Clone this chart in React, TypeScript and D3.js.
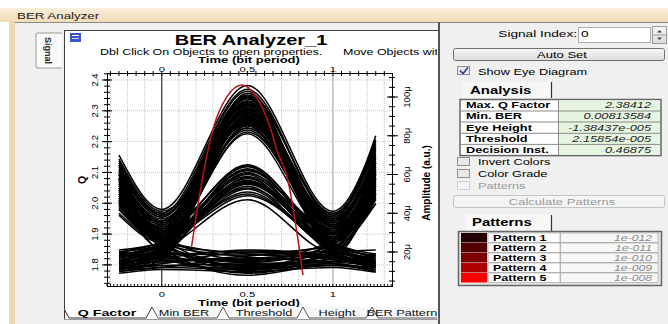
import React from 'react';
import * as d3 from 'd3';

// axis ticks
const timeLabels = [0, 0.5, 1];
const qLabels = [1.8, 1.9, 2.0, 2.1, 2.2, 2.3, 2.4];
const ampLabels = [20, 40, 60, 80, 100];

// instants (bit period) where each eye trace is sampled
const traceTimes = [-0.25, 0, 0.5, 1, 1.25];
// amplitude of each trace at those instants, in micro a.u.
const highTraces = [
  [70, 42, 106, 41, 78], [66, 40, 104, 38, 74], [62, 38, 101, 40, 72], [58, 36, 99, 34, 68],
  [55, 35, 98, 36, 66], [52, 33, 97, 31, 63], [50, 32, 96, 33, 60], [48, 30, 95, 29, 58],
  [16, 21, 94, 37, 70], [14, 19, 93, 22, 15], [60, 37, 92, 20, 14], [57, 34, 92, 35, 64],
  [45, 29, 91, 21, 17], [18, 23, 90, 30, 56], [53, 31, 90, 39, 76], [12, 18, 89, 19, 12],
  [64, 39, 88, 28, 54], [47, 28, 88, 23, 18], [20, 24, 87, 33, 62], [68, 41, 86, 36, 71],
  [43, 27, 85, 25, 19], [15, 20, 84, 32, 60], [51, 33, 83, 30, 57], [40, 26, 82, 24, 16],
  [17, 22, 81, 27, 52], [61, 36, 96, 37, 80], [56, 35, 100, 18, 13], [11, 17, 98, 34, 66],
  [63, 38, 103, 27, 50], [13, 18, 102, 39, 77], [59, 36, 100.5, 33, 61], [46, 30, 99.5, 22, 16],
  [19, 22, 97.5, 36, 67], [54, 34, 96.5, 26, 48], [65, 40, 95.5, 40, 75], [44, 28, 94.5, 19, 13],
  [21, 25, 93.5, 31, 59], [49, 31, 92.5, 35, 69], [67, 39, 91.5, 24, 15], [10, 16, 90.5, 38, 73],
  [52, 32, 89.5, 29, 55], [42, 27, 88.5, 33, 63], [14, 20, 87.5, 21, 14], [58, 35, 86.5, 37, 65],
  [39, 25, 85.5, 27, 53], [50, 30, 84, 34, 58],
];
const midTraces = [
  [48, 30, 65, 29, 55], [14, 21, 64, 26, 50], [55, 27, 63, 22, 15], [18, 24, 62, 31, 64],
  [44, 28, 61, 20, 13], [12, 19, 60, 25, 48], [60, 32, 59, 30, 58], [16, 22, 58, 21, 16],
  [50, 29, 57, 27, 52], [20, 25, 56, 19, 12], [42, 26, 55, 28, 61], [13, 20, 54, 23, 45],
  [58, 30, 53, 24, 17], [17, 23, 51, 26, 54], [46, 27, 49, 22, 14], [15, 21, 47, 20, 50],
  [52, 31, 64.5, 24, 18], [19, 23, 62.5, 29, 57], [47, 28, 60.5, 32, 62], [11, 18, 58.5, 23, 47],
  [56, 29, 56.5, 20, 14], [15, 22, 55.5, 30, 60], [45, 26, 52.5, 25, 51], [18, 24, 50, 21, 15],
];
const lowTraces = [
  [15, 17, 21, 18, 14], [12, 14, 20, 16, 13], [55, 25, 19, 17, 16], [18, 19, 18.5, 24, 58],
  [10, 12, 17, 14, 11], [62, 28, 16, 20, 21], [14, 16, 15.5, 26, 66], [48, 23, 15, 18, 12],
  [11, 13, 14, 15, 19], [20, 18, 13, 22, 50], [65, 27, 12.5, 16, 14], [13, 15, 12, 13, 10],
  [17, 20, 11, 25, 62], [52, 24, 10.5, 14, 11], [9, 11, 10, 12, 9.5], [19, 16, 9, 21, 45],
  [58, 22, 8, 15, 18], [12, 13, 11.5, 19, 54], [16, 18, 20.5, 17, 12], [53, 26, 19.5, 23, 56],
  [11, 14, 18, 21, 49], [60, 24, 17.5, 15, 13], [13, 15, 16.5, 19, 17], [46, 21, 14.5, 24, 60],
  [18, 17, 13.5, 14, 10], [57, 25, 12, 20, 47], [10, 12, 11, 17, 52], [50, 20, 9.5, 13, 12],
];

// Q factor vs decision instant (red curve)
const qTime = [0.174, 0.24, 0.298, 0.38, 0.469, 0.573, 0.632, 0.678, 0.729, 0.825];
const qValue = [1.859, 2.088, 2.238, 2.345, 2.384, 2.325, 2.248, 2.163, 2.092, 1.767];

const analysisLabels = ['Max. Q Factor', 'Min. BER', 'Eye Height', 'Threshold', 'Decision Inst.'];
const analysisValues = ['2.38412', '0.00813584', '-1.38437e-005', '2.15854e-005', '0.46875'];
const patternNames = ['Pattern 1', 'Pattern 2', 'Pattern 3', 'Pattern 4', 'Pattern 5'];
const patternBer = ['1e-012', '1e-011', '1e-010', '1e-009', '1e-008'];
const patternColors = ['#240000', '#520000', '#7c0000', '#b00000', '#ff0000'];
const tabNames = ['Q Factor', 'Min BER', 'Threshold', 'Height', 'BER Patterns'];

const FONT = '"Liberation Sans", Arial, sans-serif';
const SX = 1.45;

const plot = { left: 107, right: 392, top: 73, bottom: 286 };
const x = d3.scaleLinear().domain([-0.32, 1.345]).range([plot.left, plot.right]);
const yQ = d3.scaleLinear().domain([1.7315, 2.4227]).range([plot.bottom, plot.top]);
const yA = d3.scaleLinear().domain([2.45, 112.4]).range([plot.bottom, plot.top]);

const traceLine = d3.line<number>()
  .x((_, i) => x(traceTimes[i]))
  .y(d => yA(d))
  .curve(d3.curveMonotoneX);

const qLine = d3.line<number>()
  .x((_, i) => x(qTime[i]))
  .y(d => yQ(d))
  .curve(d3.curveMonotoneX);

type TP = { x: number; y: number; s: string; size?: number; weight?: string; anchor?: string; fill?: string; italic?: boolean };
const HText = ({ x, y, s, size = 10, weight = 'normal', anchor = 'start', fill = '#000', italic = false }: TP) => (
  <text transform={`translate(${x},${y}) scale(${SX},1)`} textAnchor={anchor} fontSize={size}
    fontWeight={weight} fill={fill} fontStyle={italic ? 'italic' : 'normal'} fontFamily={FONT}>{s}</text>
);

const VText = ({ x, y, s, size = 9.5, weight = 'normal' }: TP) => (
  <text transform={`translate(${x},${y}) rotate(-90)`} textAnchor="middle" fontSize={size}
    fontWeight={weight} fontFamily={FONT}>{s}</text>
);

const CheckBox = ({ y, checked, disabled }: { y: number; checked?: boolean; disabled?: boolean }) => (
  <g>
    <rect x={457.5} y={y} width={12} height={8} fill={disabled ? '#f4f4f4' : '#e8e8e8'} stroke={disabled ? '#d0d0d0' : '#8e8f8f'} />
    {checked && <path d={`M460,${y + 4} L463,${y + 7} L468,${y + 1}`} fill="none" stroke="#27418f" strokeWidth={1.6} />}
  </g>
);

export default function App() {
  const tabSeps = [63, 152, 223, 303, 372, 445];
  const tabY0 = 307, tabY1 = 318;
  const tabCenters = [107, 184, 264, 337, 405];

  const aRows = [99.5, 111, 122, 133.3, 144.4, 155.6];
  const pRowTop = 233;
  const pRowH = 10;

  return (
    <svg width={668} height={324} style={{ position: 'absolute', left: 0, top: 0, background: '#fff' }}>
      <defs>
        <linearGradient id="titlebar" x1="0" y1="0" x2="0" y2="1">
          <stop offset="0" stopColor="#fbeedb" />
          <stop offset="1" stopColor="#f2dbb8" />
        </linearGradient>
        <linearGradient id="btn" x1="0" y1="0" x2="0" y2="1">
          <stop offset="0" stopColor="#f6f6f6" />
          <stop offset="1" stopColor="#dcdcdc" />
        </linearGradient>
        <clipPath id="chartClip"><rect x={65} y={31} width={372} height={289} /></clipPath>
      </defs>

      {/* window chrome */}
      <rect x={0} y={8} width={668} height={14} fill="url(#titlebar)" />
      <HText x={17} y={18.5} s="BER Analyzer" size={9.2} fill="#1b1b1b" />
      <rect x={9} y={21} width={6} height={303} fill="#eed6b0" />
      <rect x={15} y={22} width={653} height={302} fill="#f0f0f0" />
      <line x1={15} y1={22.5} x2={668} y2={22.5} stroke="#8a8a8a" />

      {/* Signal side tab */}
      <path d="M62,33 L37,33 L36,34 L36,67 L37,68 L62,68" fill="#fafafa" stroke="#9a9a9a" />
      <text transform="translate(45,50.5) rotate(90)" textAnchor="middle" fontSize={9} fontFamily={FONT} fontWeight="bold" fill="#222">Signal</text>

      {/* chart frame */}
      <rect x={64} y={30} width={375} height={290} fill="#fff" />
      <line x1={64} y1={30.5} x2={440} y2={30.5} stroke="#404040" />
      <line x1={64.5} y1={30} x2={64.5} y2={320} stroke="#404040" />
      <line x1={439} y1={22} x2={439} y2={324} stroke="#555" strokeWidth={2} />

      {/* icon */}
      <rect x={70} y={33} width={11} height={9} fill="#3a58c8" />
      <line x1={72} y1={35.5} x2={79} y2={35.5} stroke="#fff" />
      <line x1={72} y1={38.5} x2={79} y2={38.5} stroke="#c8d0ff" />

      <g clipPath="url(#chartClip)">
        <HText x={251} y={44.6} s="BER Analyzer_1" size={13.8} weight="bold" anchor="middle" />
        <HText x={100} y={55} s="Dbl Click On Objects to open properties." size={8.6} />
        <HText x={343} y={55} s="Move Objects with Mouse" size={8.6} />
        <HText x={249} y={63.4} s="Time (bit period)" size={9} weight="bold" anchor="middle" />
      </g>

      {/* grid */}
      {x.ticks(16).map(t => (
        <line key={'gx' + t} x1={x(t)} x2={x(t)} y1={plot.top} y2={plot.bottom}
          stroke={Math.abs(t - 1) < 1e-6 ? '#9a9a9a' : '#c4c4c4'} strokeDasharray={Math.abs(t - 1) < 1e-6 ? undefined : '1,1'} />
      ))}
      {qLabels.map(q => (
        <line key={'gy' + q} x1={plot.left} x2={plot.right} y1={yQ(q)} y2={yQ(q)} stroke="#c4c4c4" strokeDasharray="1,1" />
      ))}
      <line x1={x(0)} x2={x(0)} y1={plot.top} y2={plot.bottom} stroke="#111" />

      {/* eye traces */}
      <g fill="none" stroke="#000" strokeWidth={1.5}>
        {[...lowTraces, ...midTraces, ...highTraces].map((tr, i) => (
          <path key={i} d={traceLine(tr) || ''} />
        ))}
      </g>
      <path d={qLine(qValue) || ''} fill="none" stroke="#b8121c" strokeWidth={1.5} />

      {/* frame lines */}
      <g stroke="#000">
        <line x1={plot.left} x2={plot.right} y1={plot.top + 0.5} y2={plot.top + 0.5} />
        <line x1={plot.left} x2={plot.right} y1={plot.bottom + 0.5} y2={plot.bottom + 0.5} />
        <line x1={plot.left + 0.5} x2={plot.left + 0.5} y1={plot.top} y2={plot.bottom + 1} />
        <line x1={plot.right + 0.5} x2={plot.right + 0.5} y1={plot.top} y2={plot.bottom + 1} />
        {x.ticks(34).map(t => (
          <line key={'tt' + t} x1={x(t)} x2={x(t)} y1={plot.top - 2} y2={plot.top + 3} />
        ))}
        {x.ticks(80).map(t => (
          <line key={'bt' + t} x1={x(t)} x2={x(t)} y1={plot.bottom - 2} y2={plot.bottom} />
        ))}
        {yQ.ticks(35).map(q => (
          <line key={'lq' + q} x1={plot.left - 3} x2={plot.left + 3} y1={yQ(q)} y2={yQ(q)} />
        ))}
        {qLabels.map(q => (
          <line key={'lQ' + q} x1={plot.left - 5} x2={plot.left + 5} y1={yQ(q)} y2={yQ(q)} />
        ))}
        {yA.ticks(22).map(a => (
          <line key={'ra' + a} x1={plot.right - 3} x2={plot.right + 3} y1={yA(a)} y2={yA(a)} />
        ))}
        {ampLabels.map(a => (
          <line key={'rA' + a} x1={plot.right - 5} x2={plot.right + 6} y1={yA(a)} y2={yA(a)} />
        ))}
      </g>

      {/* axis labels */}
      {timeLabels.map(t => (
        <HText key={'tl' + t} x={x(t)} y={71.5} s={String(t)} size={7.8} anchor="middle" />
      ))}
      {timeLabels.map(t => (
        <HText key={'bl' + t} x={x(t)} y={296.8} s={String(t)} size={7.8} anchor="middle" />
      ))}
      <HText x={249} y={305.6} s="Time (bit period)" size={9} weight="bold" anchor="middle" />
      {qLabels.map(q => (
        <VText key={'ql' + q} x={98} y={yQ(q)} s={q.toFixed(1)} size={9.5} />
      ))}
      <VText x={86} y={180} s="Q" size={10.5} weight="bold" />
      {ampLabels.map(a => (
        <VText key={'al' + a} x={410} y={yA(a)} s={`${a}\u03bc`} size={9.5} />
      ))}
      <VText x={430} y={183} s="Amplitude (a.u.)" size={10} weight="bold" />

      {/* bottom tabs */}
      <g clipPath="url(#chartClip)">
        <line x1={64} x2={440} y1={tabY0 + 0.5} y2={tabY0 + 0.5} stroke="#777" />
        {tabNames.map((n, i) => i === 0 ? null : (
          <g key={n}>
            <path d={`M${tabSeps[i]},${tabY0} L${tabSeps[i] + 6},${tabY1} L${tabSeps[i + 1] - 6},${tabY1} L${tabSeps[i + 1]},${tabY0}`}
              fill="#f7f7f7" stroke="#555" />
            <HText x={tabCenters[i]} y={315.5} s={n} size={8.8} anchor="middle" fill="#111" />
          </g>
        ))}
        <path d={`M${tabSeps[0]},${tabY0} L${tabSeps[0] + 6},${tabY1} L${tabSeps[1] - 6},${tabY1} L${tabSeps[1]},${tabY0}`}
          fill="#fff" stroke="#333" />
        <line x1={tabSeps[0] + 1} x2={tabSeps[1] - 1} y1={tabY0 + 0.5} y2={tabY0 + 0.5} stroke="#fff" />
        <HText x={tabCenters[0]} y={315.5} s={tabNames[0]} size={9.8} weight="bold" anchor="middle" />
      </g>
      <line x1={64} x2={439} y1={319.5} y2={319.5} stroke="#9a9a9a" />

      {/* right panel */}
      <HText x={577} y={37} s="Signal Index:" size={9.4} anchor="end" />
      <rect x={578.5} y={27.5} width={72} height={15} fill="#fff" stroke="#abadb3" />
      <HText x={581} y={37} s="0" size={9.4} />
      <rect x={652.5} y={26.5} width={14} height={17} fill="url(#btn)" stroke="#9a9a9a" />
      <line x1={653} x2={666} y1={35} y2={35} stroke="#9a9a9a" />
      <path d="M657,32.5 L659.5,30 L662,32.5 Z M657,37.5 L659.5,40 L662,37.5 Z" fill="#444" />

      <rect x={453.5} y={48.5} width={211} height={12} rx={2} fill="url(#btn)" stroke="#707070" />
      <HText x={562} y={57.5} s="Auto Set" size={9} anchor="middle" />

      <CheckBox y={66.5} checked />
      <HText x={478} y={74.5} s="Show Eye Diagram" size={8.8} />

      {/* analysis */}
      <rect x={463} y={82} width={88} height={16} fill="#f7f7f7" />
      <line x1={551.5} x2={551.5} y1={82} y2={98} stroke="#333" strokeWidth={1.2} />
      <HText x={470} y={93.5} s="Analysis" size={10.3} weight="bold" />
      <rect x={460} y={aRows[0]} width={201} height={aRows[5] - aRows[0]} fill="#fff" stroke="#666" strokeWidth={1.5} />
      <rect x={558.5} y={aRows[0] + 1} width={101.5} height={aRows[5] - aRows[0] - 2} fill="#e6f5e1" />
      {analysisLabels.map((l, i) => (
        <g key={l}>
          {i > 0 && <line x1={461} x2={660} y1={aRows[i]} y2={aRows[i]} stroke="#8a8a8a" />}
          <HText x={466} y={aRows[i + 1] - 2.6} s={l} size={8.8} weight="bold" />
          <HText x={651} y={aRows[i + 1] - 2.6} s={analysisValues[i]} size={8.8} anchor="end" italic fill="#222" />
        </g>
      ))}
      <line x1={558.5} x2={558.5} y1={aRows[0]} y2={aRows[5]} stroke="#8a8a8a" />

      <CheckBox y={157.5} />
      <HText x={478} y={165} s="Invert Colors" size={8.8} />
      <CheckBox y={169.5} />
      <HText x={478} y={177} s="Color Grade" size={8.8} />
      <CheckBox y={181.5} disabled />
      <HText x={478} y={189} s="Patterns" size={8.8} fill="#9a9a9a" />

      <rect x={453.5} y={195.5} width={211} height={12} rx={2} fill="#f4f4f4" stroke="#c4c4c4" />
      <HText x={562} y={204.5} s="Calculate Patterns" size={9} anchor="middle" fill="#9a9a9a" />

      {/* patterns */}
      <rect x={465} y={215} width={86} height={16} fill="#f7f7f7" />
      <line x1={551.5} x2={551.5} y1={215} y2={231} stroke="#333" strokeWidth={1.2} />
      <HText x={472} y={226} s="Patterns" size={10.3} weight="bold" />
      <rect x={458.5} y={231.5} width={203} height={54} fill="#e4e4e4" stroke="#666" strokeWidth={1.5} />
      {patternNames.map((n, i) => {
        const top = pRowTop + i * pRowH;
        return (
          <g key={n}>
            <rect x={461} y={top} width={26} height={pRowH - 0.5} fill={patternColors[i]} />
            <rect x={488} y={top} width={72} height={pRowH - 0.5} fill="#fff" stroke="#9a9a9a" strokeWidth={0.6} />
            <rect x={560.5} y={top} width={97.5} height={pRowH - 0.5} fill="#f7f7f7" stroke="#9a9a9a" strokeWidth={0.6} />
            <HText x={493} y={top + 8} s={n} size={8.6} weight="bold" />
            <HText x={652} y={top + 8} s={patternBer[i]} size={8.4} anchor="end" italic fill="#8a8a8a" />
          </g>
        );
      })}
    </svg>
  );
}
